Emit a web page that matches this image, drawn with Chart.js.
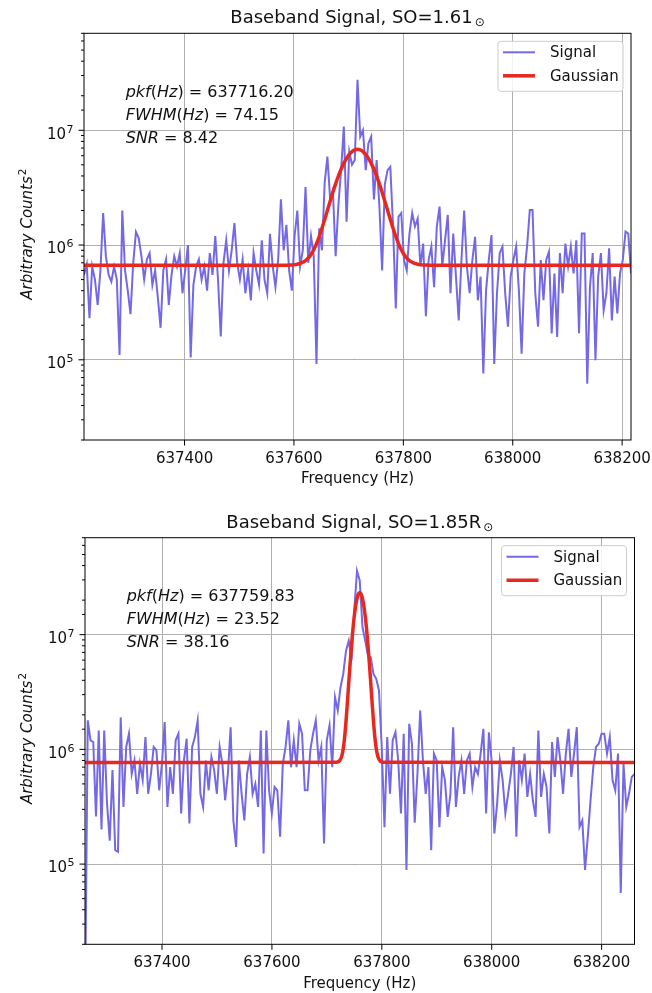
<!DOCTYPE html>
<html>
<head>
<meta charset="utf-8">
<script src="https://cdn.jsdelivr.net/npm/chart.js@4.4.1/dist/chart.umd.min.js"></script>
<style>
  html, body { margin: 0; padding: 0; background: #fff; }
  #wrap { position: relative; width: 652px; height: 993px; }
  canvas { position: absolute; left: 0; }
</style>
</head>
<body>
<div id="wrap">
  <canvas id="topChart" width="652" height="496" style="top:0"></canvas>
  <canvas id="bottomChart" width="652" height="497" style="top:496px"></canvas>
</div>
<script>
// values are in units of 1e5 counts^2, sampled every 5 Hz
const UNIT = 1e5;
const STEP_HZ = 5;
const xTicks = [637400, 637600, 637800, 638000, 638200];
const legendNames = ['Signal', 'Gaussian'];

// --- upper panel (SO = 1.61) ---
const topTitle = 'Baseband Signal, SO=1.61';
const topStartHz = 637216.20;
const topPeakHz = 637716.20;
const topInfo = ['637716.20', '74.15', '8.42'];
const topSignal = [
  5.5, 6.8, 2.3, 6.5, 5.0, 3.0, 6.0, 19, 8.0, 5.5,
  4.8, 6.5, 5.0, 1.1, 20, 6.0, 4.0, 2.5, 7.0, 13,
  11.5, 8.0, 5.0, 7.5, 8.5, 4.5, 6.0, 3.5, 1.9, 6.0,
  7.5, 3.0, 5.5, 8.0, 6.5, 8.5, 3.8, 6.0, 10, 1.05,
  4.5, 6.5, 7.5, 5.0, 6.5, 4.0, 8.5, 5.5, 12, 5.0,
  1.6, 7.0, 11, 6.0, 9.0, 15.5, 7.0, 5.0, 7.5, 3.8,
  6.0, 3.3, 8.5, 6.0, 4.5, 11, 5.0, 3.8, 12.5, 6.5,
  4.3, 7.5, 25, 9.0, 15, 6.0, 4.0, 12, 20, 6.5,
  9.0, 32, 7.0, 12, 8.0, 0.92, 14, 9.0, 35, 59,
  25, 30, 8.0, 22, 45, 108, 16, 65, 50, 55,
  276, 88, 100, 45, 77, 88, 25, 55, 22, 6.0,
  34, 45, 48, 14.5, 2.8, 17.7, 19, 7.4, 6.0, 12.6,
  19, 14.5, 17, 6.5, 10.3, 2.4, 7.4, 9.7, 4.3, 14.5,
  21.6, 6.5, 11, 18.3, 3.8, 12.6, 5.3, 2.2, 7.4, 20,
  6.5, 3.8, 7.4, 11.8, 3.3, 5.3, 0.76, 4.0, 7.4, 12.2,
  0.92, 3.8, 8.5, 9.7, 3.8, 1.94, 5.3, 7.4, 9.7, 4.05,
  1.13, 5.65, 9.7, 20.2, 20.2, 3.8, 1.94, 7.4, 3.3, 7.4,
  8.75, 1.7, 5.65, 1.58, 8.5, 3.8, 10.3, 6.5, 9.7, 5.65,
  11, 1.7, 12.6, 12.6, 0.62, 4.3, 8.5, 0.99, 5.3, 8.5,
  2.7, 3.8, 9.35, 2.2, 5.3, 2.53, 5.65, 7.4, 13.1, 12.6,
  5.65
];
// fitted curve: [offset from peak in Hz, value]
const topGauss = [
  [-500, 6.67], [-130, 6.68], [-125, 6.69], [-120, 6.71], [-115, 6.75], [-110, 6.81],
  [-105, 6.91], [-100, 7.07], [-95, 7.32], [-90, 7.71], [-85, 8.28], [-80, 9.11],
  [-75, 10.27], [-70, 11.87], [-65, 14.0], [-60, 16.7], [-55, 20.05], [-50, 24.1],
  [-45, 28.8], [-40, 34.1], [-35, 39.8], [-30, 45.7], [-25, 51.5], [-20, 56.9],
  [-15, 61.6], [-10, 65.2], [-5, 67.4], [0, 68.2], [5, 67.4], [10, 65.2],
  [15, 61.6], [20, 56.9], [25, 51.5], [30, 45.7], [35, 39.8], [40, 34.1],
  [45, 28.8], [50, 24.1], [55, 20.05], [60, 16.7], [65, 14.0], [70, 11.87],
  [75, 10.27], [80, 9.11], [85, 8.28], [90, 7.71], [95, 7.32], [100, 7.07],
  [105, 6.91], [110, 6.81], [115, 6.75], [120, 6.71], [125, 6.69], [130, 6.68],
  [500, 6.67]
];

// --- lower panel (SO = 1.85 R) ---
const bottomTitle = 'Baseband Signal, SO=1.85R';
const bottomStartHz = 637259.83;
const bottomPeakHz = 637759.83;
const bottomInfo = ['637759.83', '23.52', '38.16'];
const bottomSignal = [
  0.05, 17.9, 12, 11.6, 2.6, 14.6, 2.0, 14.6, 3.4, 1.6,
  6.6, 1.32, 1.28, 19, 3.15, 10.5, 13.7, 6.1, 8.0, 4.1,
  7.5, 5.4, 12.8, 4.1, 6.1, 10.5, 9.8, 4.4, 7.5, 17.3,
  3.15, 7.0, 4.1, 12, 13.7, 2.76, 8.0, 12.4, 2.26, 10.5,
  12.8, 17.9, 4.1, 3.15, 8.0, 4.4, 8.6, 6.6, 4.1, 10.5,
  7.5, 3.6, 6.1, 15.6, 2.4, 1.41, 8.0, 4.1, 2.4, 6.1,
  8.6, 4.1, 5.0, 3.15, 14.6, 1.24, 14.6, 4.4, 2.76, 4.7,
  4.4, 1.73, 7.5, 10.5, 17.9, 7.0, 12.0, 7.0, 16.7, 13.7,
  4.4, 4.4, 9.8, 13.7, 17.9, 8.0, 10.5, 1.51, 12.0, 16.2,
  7.0, 28.5, 21.8, 34.8, 45.5, 72.6, 88.6, 60, 162, 360,
  295, 116, 88.6, 65.7, 63.5, 45.5, 41.2, 32.6, 10.5, 2.1,
  12.8, 4.1, 12.0, 14.1, 8.0, 2.76, 13.7, 0.89, 16.7, 11.2,
  2.3, 6.1, 21.8, 8.0, 4.1, 7.0, 1.32, 9.2, 8.0, 2.1,
  7.0, 5.4, 2.58, 4.1, 15.6, 3.15, 5.75, 8.0, 4.1, 8.0,
  9.2, 4.7, 7.0, 6.1, 9.2, 15.1, 2.76, 14.1, 8.0, 1.85,
  3.37, 8.0, 5.4, 2.76, 4.1, 6.1, 10.5, 1.73, 8.0, 5.4,
  9.2, 3.85, 6.1, 3.6, 2.58, 14.6, 3.85, 6.1, 4.7, 1.85,
  11.6, 5.75, 12.8, 8.0, 4.1, 9.2, 15.1, 5.75, 9.2, 15.6,
  2.1, 2.4, 0.89, 1.73, 3.6, 7.0, 10.5, 11.2, 13.7, 13.7,
  9.2, 12.8, 5.4, 4.4, 9.2, 0.56, 7.5, 3.15, 4.1, 5.75,
  6.1
];
const bottomGauss = [
  [-500, 7.7], [-45, 7.71], [-42.5, 7.73], [-40, 7.77], [-37.5, 7.90], [-35, 8.19],
  [-32.5, 8.83], [-30, 10.18], [-27.5, 12.8], [-25, 17.55], [-22.5, 25.5], [-20, 38.1],
  [-17.5, 56.3], [-15, 80.7], [-12.5, 110.7], [-10, 144.2], [-7.5, 177.7], [-5, 206.5],
  [-2.5, 226.1], [0, 233.0], [2.5, 226.1], [5, 206.5], [7.5, 177.7], [10, 144.2],
  [12.5, 110.7], [15, 80.7], [17.5, 56.3], [20, 38.1], [22.5, 25.5], [25, 17.55],
  [27.5, 12.8], [30, 10.18], [32.5, 8.83], [35, 8.19], [37.5, 7.90], [40, 7.77],
  [42.5, 7.73], [45, 7.71], [500, 7.7]
];

const Y_MIN = 2e4, Y_MAX = 7e7;
const BLUE = '#7468e6';
const RED = '#e8281f';
const FONT = '"DejaVu Sans", sans-serif';
const TXT = '#111';

function isPow10(v) {
  const l = Math.log10(v);
  return Math.abs(l - Math.round(l)) < 1e-6;
}

// draws the matplotlib-like decorations around the plot
function makeDecor(p) {
  return {
    id: 'decor',
    afterDatasetsDraw(chart) {
      const ctx = chart.ctx;
      const a = chart.chartArea;
      const xs = chart.scales.x, ys = chart.scales.y;
      const cx = (a.left + a.right) / 2;
      ctx.save();
      ctx.strokeStyle = '#000';
      ctx.lineWidth = 1;
      ctx.fillStyle = TXT;

      // y ticks and labels
      ys.ticks.forEach(t => {
        const y = ys.getPixelForValue(t.value);
        const major = isPow10(t.value);
        const len = major ? 5.5 : 3;
        ctx.beginPath(); ctx.moveTo(a.left - len, y); ctx.lineTo(a.left, y); ctx.stroke();
        if (major) {
          const e = String(Math.round(Math.log10(t.value)));
          ctx.textAlign = 'right';
          ctx.textBaseline = 'alphabetic';
          ctx.font = '11px ' + FONT;
          const ew = ctx.measureText(e).width;
          ctx.fillText(e, a.left - 10.5, y + 2.3);
          ctx.font = '15px ' + FONT;
          ctx.fillText('10', a.left - 11 - ew, y + 8.3);
        }
      });
      // x ticks and labels
      ctx.font = '15px ' + FONT;
      ctx.textAlign = 'center';
      ctx.textBaseline = 'alphabetic';
      xs.ticks.forEach(t => {
        const x = xs.getPixelForValue(t.value);
        ctx.beginPath(); ctx.moveTo(x, a.bottom); ctx.lineTo(x, a.bottom + 5.5); ctx.stroke();
        ctx.fillText(String(t.value), x, a.bottom + 23);
      });

      // spines
      ctx.strokeRect(a.left, a.top, a.right - a.left, a.bottom - a.top);

      // title with subscript sun symbol
      ctx.font = '18px ' + FONT;
      const tw = ctx.measureText(p.title).width;
      ctx.font = '12px ' + FONT;
      const sw = ctx.measureText('\u2299').width;
      const tx = cx - (tw + 2 + sw) / 2;
      ctx.textAlign = 'left';
      ctx.font = '18px ' + FONT;
      ctx.fillText(p.title, tx, a.top - 10);
      ctx.font = '12px ' + FONT;
      ctx.fillText('\u2299', tx + tw + 2, a.top - 7);

      // axis labels
      ctx.font = '15px ' + FONT;
      ctx.textAlign = 'center';
      ctx.fillText('Frequency (Hz)', cx, a.bottom + 43.2);

      ctx.save();
      ctx.translate(32, (a.top + a.bottom) / 2 - 2.5);
      ctx.rotate(-Math.PI / 2);
      ctx.font = 'italic 15px ' + FONT;
      const lw = ctx.measureText('Arbitrary Counts').width;
      ctx.font = '10.5px ' + FONT;
      const supw = ctx.measureText('2').width;
      const lx = -(lw + 1 + supw) / 2;
      ctx.textAlign = 'left';
      ctx.font = 'italic 15px ' + FONT;
      ctx.fillText('Arbitrary Counts', lx, 0);
      ctx.font = '10.5px ' + FONT;
      ctx.fillText('2', lx + lw + 1, -6);
      ctx.restore();

      // fit parameters
      const lines = [
        [['pkf', 1], ['(', 0], ['Hz', 1], [')', 0], [' = ' + p.info[0], 0]],
        [['FWHM', 1], ['(', 0], ['Hz', 1], [')', 0], [' = ' + p.info[1], 0]],
        [['SNR', 1], [' = ' + p.info[2], 0]]
      ];
      ctx.textAlign = 'left';
      lines.forEach((segs, i) => {
        let x = a.left + 41.7;
        const y = a.top + 63.5 + i * 23;
        segs.forEach(([s, it]) => {
          ctx.font = (it ? 'italic ' : '') + '16px ' + FONT;
          ctx.fillText(s, x, y);
          x += ctx.measureText(s).width;
        });
      });

      // legend
      const bw = 125, bh = 50;
      const bx = a.right - 8 - bw, by = a.top + 8;
      ctx.beginPath();
      ctx.roundRect(bx, by, bw, bh, 3);
      ctx.fillStyle = 'rgba(255,255,255,0.85)';
      ctx.fill();
      ctx.strokeStyle = '#cccccc';
      ctx.stroke();
      const items = [[legendNames[0], BLUE, 2], [legendNames[1], RED, 3.5]];
      ctx.font = '15px ' + FONT;
      ctx.textBaseline = 'middle';
      items.forEach(([name, col, w], i) => {
        const y = by + 11 + i * 23.5;
        ctx.strokeStyle = col;
        ctx.lineWidth = w;
        ctx.beginPath(); ctx.moveTo(bx + 5, y); ctx.lineTo(bx + 37, y); ctx.stroke();
        ctx.fillStyle = TXT;
        ctx.fillText(name, bx + 52, y + 1);
      });
      ctx.restore();
    }
  };
}

function makeChart(p) {
  const canvas = document.getElementById(p.id);
  const H = canvas.height;
  const sig = p.signal.map((v, i) => ({ x: p.startHz + i * STEP_HZ, y: v * UNIT }));
  const fit = p.gauss.map(([d, v]) => ({ x: p.peakHz + d, y: v * UNIT }));
  return new Chart(canvas.getContext('2d'), {
    type: 'line',
    data: {
      datasets: [
        { label: legendNames[1], data: fit, borderColor: RED, borderWidth: 3.5,
          pointRadius: 0, cubicInterpolationMode: 'monotone', clip: 0, order: 0 },
        { label: legendNames[0], data: sig, borderColor: BLUE, borderWidth: 2,
          pointRadius: 0, tension: 0, clip: 0, order: 1 }
      ]
    },
    options: {
      responsive: false,
      animation: false,
      devicePixelRatio: 1,
      layout: { autoPadding: false, padding: { left: 0, top: p.area.top, right: 652 - p.area.right, bottom: 0 } },
      plugins: { legend: { display: false }, tooltip: { enabled: false }, title: { display: false } },
      scales: {
        x: {
          type: 'linear',
          min: p.startHz,
          max: p.startHz + 1000,
          afterBuildTicks: s => { s.ticks = xTicks.map(v => ({ value: v })); },
          afterFit: s => { s.height = H - p.area.bottom; },
          ticks: { display: false },
          border: { display: false },
          grid: { color: '#b0b0b0', lineWidth: 1, drawTicks: false }
        },
        y: {
          type: 'logarithmic',
          min: Y_MIN,
          max: Y_MAX,
          afterFit: s => { s.width = p.area.left; },
          ticks: { display: false, autoSkip: false },
          border: { display: false },
          grid: {
            drawTicks: false,
            lineWidth: 1,
            color: c => (c.tick && isPow10(c.tick.value)) ? '#b0b0b0' : 'rgba(0,0,0,0)'
          }
        }
      }
    },
    plugins: [makeDecor(p)]
  });
}

makeChart({
  id: 'topChart', title: topTitle, info: topInfo,
  startHz: topStartHz, peakHz: topPeakHz, signal: topSignal, gauss: topGauss,
  area: { left: 84, top: 33.3, right: 631, bottom: 440 }
});
makeChart({
  id: 'bottomChart', title: bottomTitle, info: bottomInfo,
  startHz: bottomStartHz, peakHz: bottomPeakHz, signal: bottomSignal, gauss: bottomGauss,
  area: { left: 85, top: 41.7, right: 634.5, bottom: 448.3 }
});
</script>
</body>
</html>
